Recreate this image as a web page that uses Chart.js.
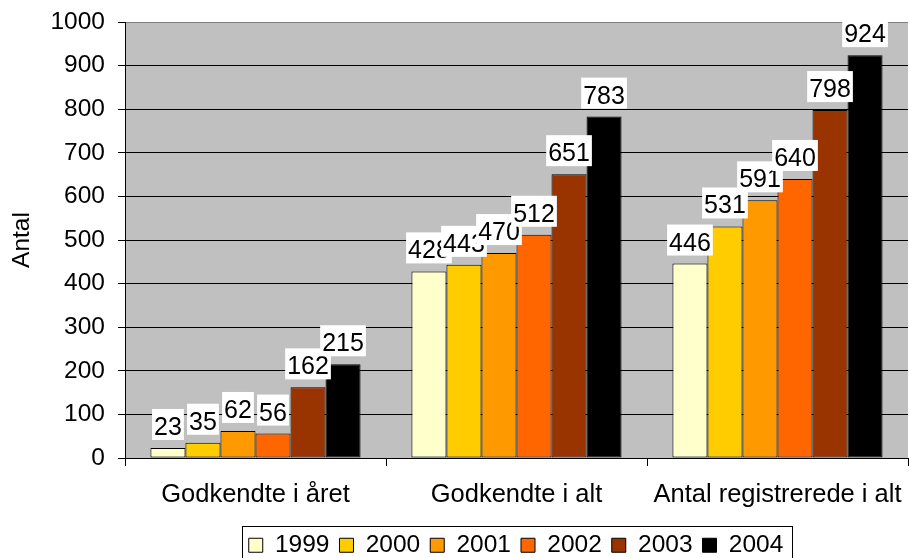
<!DOCTYPE html>
<html>
<head>
<meta charset="utf-8">
<script src="https://cdn.jsdelivr.net/npm/chart.js@4/dist/chart.umd.min.js"></script>
<style>
  html, body { margin: 0; padding: 0; background: #fff; }
  #wrap { width: 909px; height: 558px; position: relative; }
</style>
</head>
<body>
<div id="wrap"><canvas id="c" width="909" height="558"></canvas></div>
<script>
const categories = ['Godkendte i året', 'Godkendte i alt', 'Antal registrerede i alt'];
const years = ['1999', '2000', '2001', '2002', '2003', '2004'];
const v1999 = [23, 428, 446];
const v2000 = [35, 443, 531];
const v2001 = [62, 470, 591];
const v2002 = [56, 512, 640];
const v2003 = [162, 651, 798];
const v2004 = [215, 783, 924];
const yTicks = [0, 100, 200, 300, 400, 500, 600, 700, 800, 900, 1000];
const colors = ['#FFFFCC', '#FFCC00', '#FF9900', '#FF6600', '#993300', '#000000'];

const seriesValues = [v1999, v2000, v2001, v2002, v2003, v2004];
const FONT = "'Liberation Sans', Arial, sans-serif";

const PLOT_LEFT = 125, PLOT_TOP = 22, PLOT_BOTTOM = 458, CANVAS_H = 558;

const plotBg = {
  id: 'plotBg',
  beforeDraw(chart) {
    const a = chart.chartArea, ctx = chart.ctx;
    ctx.save();
    ctx.fillStyle = '#C0C0C0';
    ctx.fillRect(a.left, a.top, a.right - a.left, a.bottom - a.top);
    ctx.restore();
  }
};

const legendPlace = {
  id: 'legendPlace',
  afterLayout(chart) {
    const l = chart.legend;
    if (!l) return;
    const dx = 62;
    l.left += dx; l.right += dx;
    const h = l.height;
    l.top = 523; l.bottom = l.top + h;
  },
  afterDraw(chart) {
    const l = chart.legend;
    if (!l || !l.legendHitBoxes || !l.legendHitBoxes.length) return;
    const hb = l.legendHitBoxes;
    let minL = Infinity, maxR = -Infinity;
    hb.forEach(b => { minL = Math.min(minL, b.left); maxR = Math.max(maxR, b.left + b.width); });
    const ctx = chart.ctx;
    ctx.save();
    ctx.strokeStyle = '#000';
    ctx.lineWidth = 1;
    ctx.strokeRect(Math.round(minL - 7) + 0.5, 526.5, Math.round(maxR - minL + 15), 60);
    ctx.restore();
  }
};

const dataLabels = {
  id: 'dataLabels',
  afterDatasetsDraw(chart) {
    const ctx = chart.ctx, a = chart.chartArea;
    ctx.save();
    ctx.beginPath();
    ctx.rect(a.left, a.top, a.right - a.left, a.bottom - a.top);
    ctx.clip();
    ctx.font = '25px ' + FONT;
    ctx.textAlign = 'center';
    ctx.textBaseline = 'alphabetic';
    chart.data.datasets.forEach((ds, di) => {
      const meta = chart.getDatasetMeta(di);
      meta.data.forEach((el, i) => {
        const txt = String(ds.data[i]);
        const w = ctx.measureText(txt).width + 4;
        const bottom = el.y - 8;
        const top = bottom - 31;
        ctx.fillStyle = '#FFFFFF';
        ctx.fillRect(el.x - w / 2, top, w, 31);
        ctx.fillStyle = '#000000';
        ctx.fillText(txt, el.x, bottom - 5);
      });
    });
    ctx.restore();
  }
};

const datasets = years.map((y, i) => ({
  label: y,
  data: seriesValues[i],
  backgroundColor: colors[i],
  borderColor: '#000000',
  borderWidth: 1,
  borderSkipped: false,
  categoryPercentage: 0.805,
  barPercentage: 1.0
}));

new Chart(document.getElementById('c'), {
  type: 'bar',
  data: { labels: categories, datasets },
  options: {
    responsive: false,
    animation: false,
    events: [],
    layout: { padding: { top: PLOT_TOP, right: 1, left: 0, bottom: 0 } },
    plugins: {
      tooltip: { enabled: false },
      legend: {
        position: 'bottom',
        align: 'center',
        labels: {
          boxWidth: 14,
          boxHeight: 14,
          padding: 10,
          color: '#000',
          font: { family: FONT, size: 24.5 }
        }
      }
    },
    scales: {
      x: {
        offset: true,
        grid: {
          display: true,
          offset: true,
          drawOnChartArea: false,
          drawTicks: true,
          tickLength: 8,
          color: '#000'
        },
        border: { display: true, color: '#000', width: 1 },
        ticks: {
          color: '#000',
          padding: 14,
          maxRotation: 0,
          autoSkip: false,
          font: { family: FONT, size: 25.5 }
        },
        afterFit(scale) {
          const lh = scale.chart.legend ? scale.chart.legend.height : 0;
          scale.height = CANVAS_H - PLOT_BOTTOM - lh;
          scale.paddingLeft = 0;
          scale.paddingRight = 0;
        }
      },
      y: {
        min: 0,
        max: 1000,
        afterBuildTicks(scale) { scale.ticks = yTicks.map(v => ({ value: v })); },
        grid: {
          color: (ctx) => (ctx.tick && ctx.tick.value === 1000 ? '#808080' : '#000'),
          tickColor: '#000',
          lineWidth: 1,
          drawTicks: true,
          tickLength: 7
        },
        border: { display: true, color: '#000', width: 1 },
        ticks: {
          color: '#000',
          padding: 13,
          font: { family: FONT, size: 24.5 },
          callback: (v) => String(v)
        },
        title: {
          display: true,
          text: 'Antal',
          color: '#000',
          padding: 8,
          font: { family: FONT, size: 24.5 }
        },
        afterFit(scale) {
          scale.width = PLOT_LEFT;
          scale.paddingTop = 0;
          scale.paddingBottom = 0;
        }
      }
    }
  },
  plugins: [plotBg, legendPlace, dataLabels]
});
</script>
</body>
</html>
